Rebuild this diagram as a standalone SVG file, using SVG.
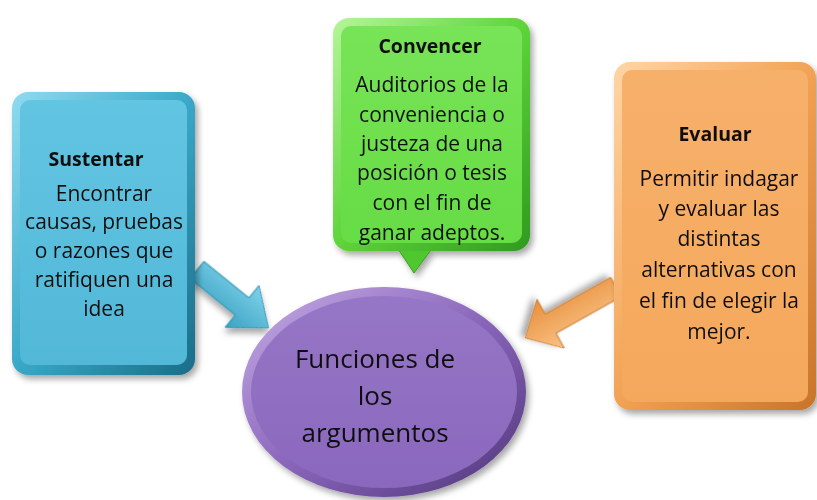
<svg xmlns="http://www.w3.org/2000/svg" width="817" height="500" viewBox="0 0 817 500">
  <defs>
    <filter id="sh" x="-20%" y="-20%" width="140%" height="140%">
      <feDropShadow dx="3" dy="4" stdDeviation="3" flood-color="#000" flood-opacity="0.35"/>
    </filter>
    <linearGradient id="blueEdge" x1="0" y1="0" x2="1" y2="1">
      <stop offset="0" stop-color="#8fdcf0"/>
      <stop offset="0.5" stop-color="#3aa8c8"/>
      <stop offset="1" stop-color="#1a6d88"/>
    </linearGradient>
    <linearGradient id="blueFace" x1="0" y1="0" x2="0" y2="1">
      <stop offset="0" stop-color="#62c5e2"/>
      <stop offset="1" stop-color="#52b8d8"/>
    </linearGradient>
    <linearGradient id="greenEdge" x1="0" y1="0" x2="1" y2="1">
      <stop offset="0" stop-color="#b6f59a"/>
      <stop offset="0.5" stop-color="#5ed43a"/>
      <stop offset="1" stop-color="#2f9a1e"/>
    </linearGradient>
    <linearGradient id="greenFace" x1="0" y1="0" x2="0" y2="1">
      <stop offset="0" stop-color="#78e458"/>
      <stop offset="1" stop-color="#66dc44"/>
    </linearGradient>
    <linearGradient id="orangeEdge" x1="0" y1="0" x2="1" y2="1">
      <stop offset="0" stop-color="#ffd6a6"/>
      <stop offset="0.5" stop-color="#f2a254"/>
      <stop offset="1" stop-color="#c8742a"/>
    </linearGradient>
    <linearGradient id="orangeFace" x1="0" y1="0" x2="0" y2="1">
      <stop offset="0" stop-color="#f7b06a"/>
      <stop offset="1" stop-color="#f4a85c"/>
    </linearGradient>
    <linearGradient id="purpleEdge" x1="0" y1="0" x2="1" y2="1">
      <stop offset="0" stop-color="#c7aee6"/>
      <stop offset="0.5" stop-color="#8a66bb"/>
      <stop offset="1" stop-color="#4e3478"/>
    </linearGradient>
    <linearGradient id="purpleFace" x1="0" y1="0" x2="0" y2="1">
      <stop offset="0" stop-color="#9676c6"/>
      <stop offset="1" stop-color="#8a68bd"/>
    </linearGradient>
    <linearGradient id="blueArrow" x1="0" y1="0" x2="0" y2="1">
      <stop offset="0" stop-color="#7fd2ea"/>
      <stop offset="1" stop-color="#3aa2c2"/>
    </linearGradient>
    <linearGradient id="orangeArrow" x1="0" y1="0" x2="0" y2="1">
      <stop offset="0" stop-color="#f9c285"/>
      <stop offset="1" stop-color="#e88f3c"/>
    </linearGradient>
  </defs>
  <style>
    text { font-family: "Open Sans", Lato, "Liberation Sans", sans-serif; fill: #111; text-anchor: middle; }
    .t { font-size: 19.5px; font-weight: 700; }
    .b { font-size: 21px; }
    .c { font-size: 26px; }
  </style>
  <rect width="817" height="500" fill="#fff"/>

  <g id="connectors">
    <polygon transform="translate(197,270) rotate(39)" points="0,-11 58,-11 58,-27 92,0 58,27 58,11 0,11" fill="url(#blueArrow)" stroke="#2e8fae" stroke-width="1" filter="url(#sh)"/>
    <polygon transform="translate(616,287) rotate(150.7)" points="0,-11 75,-11 75,-28 104,0 75,28 75,11 0,11" fill="url(#orangeArrow)" stroke="#cc7a30" stroke-width="1" filter="url(#sh)"/>
  </g>

  <g id="node-sustentar" filter="url(#sh)">
    <rect x="12" y="92" width="183" height="283" rx="16" fill="url(#blueEdge)"/>
    <rect x="20" y="100" width="167" height="265" rx="10" fill="url(#blueFace)"/>
    <text class="t" x="96" y="166">Sustentar</text>
    <text class="b" x="104" y="201">Encontrar</text>
    <text class="b" x="104" y="229">causas, pruebas</text>
    <text class="b" x="104" y="258">o razones que</text>
    <text class="b" x="104" y="287">ratifiquen una</text>
    <text class="b" x="104" y="316">idea</text>
  </g>

  <g id="node-convencer" filter="url(#sh)">
    <polygon points="396,246 434,246 414,273" fill="#4fc72e" stroke="#3aa020" stroke-width="1"/>
    <rect x="333" y="18" width="197" height="233" rx="16" fill="url(#greenEdge)"/>
    <rect x="341" y="26" width="181" height="217" rx="10" fill="url(#greenFace)"/>
    <text class="t" x="430" y="53">Convencer</text>
    <text class="b" x="432" y="92">Auditorios de la</text>
    <text class="b" x="432" y="122">conveniencia o</text>
    <text class="b" x="432" y="151">justeza de una</text>
    <text class="b" x="432" y="180">posición o tesis</text>
    <text class="b" x="432" y="210">con el fin de</text>
    <text class="b" x="432" y="240">ganar adeptos.</text>
  </g>

  <g id="node-evaluar" filter="url(#sh)">
    <rect x="614" y="62" width="202" height="348" rx="16" fill="url(#orangeEdge)"/>
    <rect x="622" y="70" width="186" height="332" rx="10" fill="url(#orangeFace)"/>
    <text class="t" x="715" y="141">Evaluar</text>
    <text class="b" x="719" y="186">Permitir indagar</text>
    <text class="b" x="719" y="216">y evaluar las</text>
    <text class="b" x="719" y="246">distintas</text>
    <text class="b" x="719" y="277">alternativas con</text>
    <text class="b" x="719" y="308">el fin de elegir la</text>
    <text class="b" x="719" y="339">mejor.</text>
  </g>

  <g id="node-center" filter="url(#sh)">
    <ellipse cx="384" cy="392" rx="142" ry="105" fill="url(#purpleEdge)"/>
    <ellipse cx="384" cy="392" rx="133" ry="96" fill="url(#purpleFace)"/>
    <text class="c" x="375" y="368">Funciones de</text>
    <text class="c" x="375" y="405">los</text>
    <text class="c" x="375" y="442">argumentos</text>
  </g>
</svg>
